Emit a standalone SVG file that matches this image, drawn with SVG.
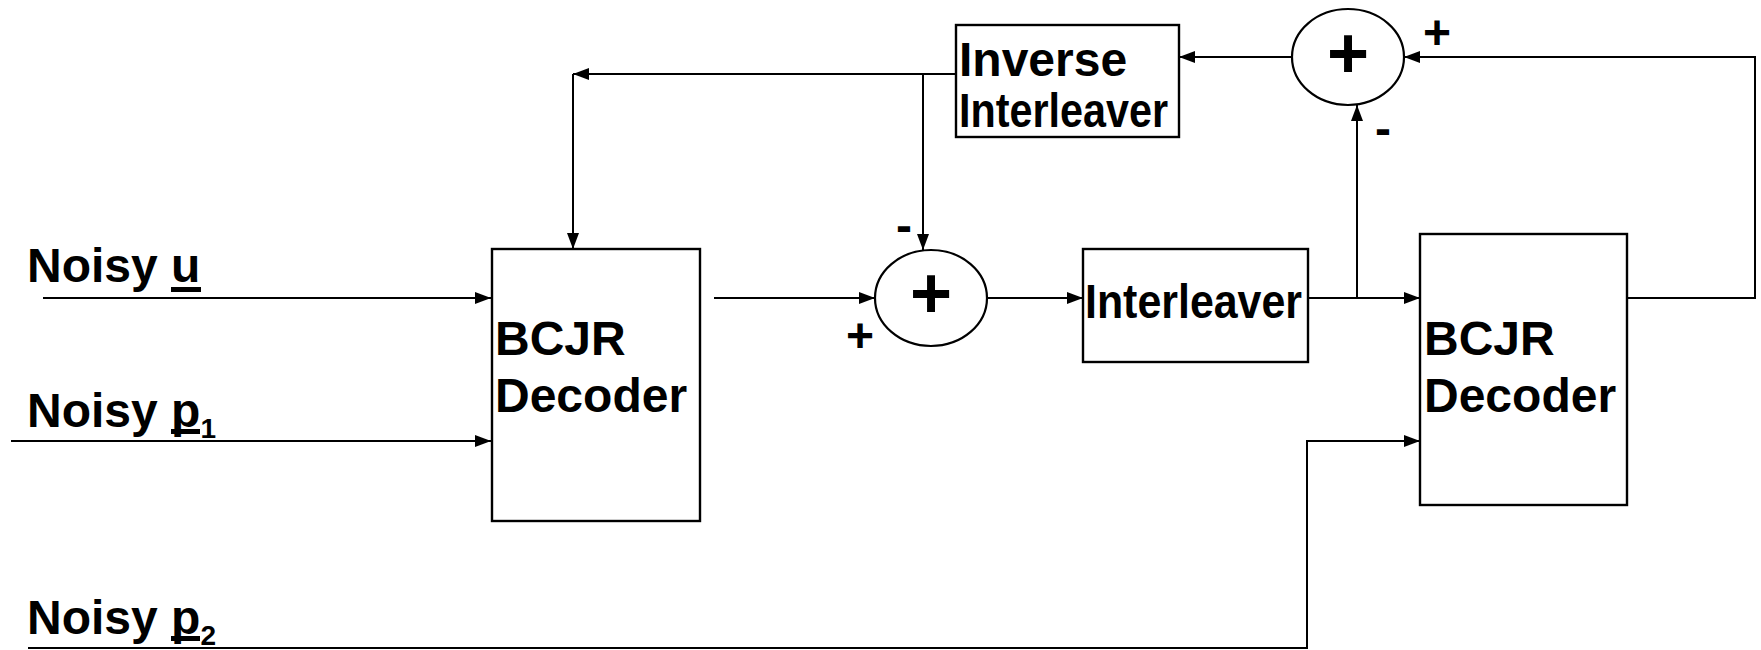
<svg xmlns="http://www.w3.org/2000/svg" width="1761" height="650" viewBox="0 0 1761 650">
<style>
.box{fill:#fff;stroke:#000;stroke-width:2.4}
.sum{fill:#fff;stroke:#000;stroke-width:2.2}
.ln{fill:none;stroke:#000;stroke-width:2}
.t{font-family:"Liberation Sans",Arial,sans-serif;font-weight:bold;font-size:48px;fill:#000}
.s{font-family:"Liberation Sans",Arial,sans-serif;font-weight:bold;font-size:48px;fill:#000}
.p{font-family:"Liberation Sans",Arial,sans-serif;font-weight:bold;font-size:72px;fill:#000;text-anchor:middle}
.ul{fill:#000}
</style>
<defs>
<marker id="ah" viewBox="0 0 16 12" refX="16" refY="6" markerWidth="16" markerHeight="12" markerUnits="userSpaceOnUse" orient="auto">
<path d="M0,0 L16,6 L0,12 Z" fill="#000"/>
</marker>
</defs>
<g id="connectors">
<path class="ln" d="M43,298 H491" marker-end="url(#ah)"/>
<path class="ln" d="M11,441 H491" marker-end="url(#ah)"/>
<path class="ln" d="M28,648 H1307 V441 H1420" marker-end="url(#ah)"/>
<path class="ln" d="M714,298 H875" marker-end="url(#ah)"/>
<path class="ln" d="M987,298 H1083" marker-end="url(#ah)"/>
<path class="ln" d="M1307,298 H1420" marker-end="url(#ah)"/>
<path class="ln" d="M1357,298 V105" marker-end="url(#ah)"/>
<path class="ln" d="M1627,298 H1755 V57 H1404" marker-end="url(#ah)"/>
<path class="ln" d="M1292,57 H1179" marker-end="url(#ah)"/>
<path class="ln" d="M956,74 H573" marker-end="url(#ah)"/>
<path class="ln" d="M573,74 V249" marker-end="url(#ah)"/>
<path class="ln" d="M923,74 V250" marker-end="url(#ah)"/>
</g>
<g id="input-labels">
<text class="t" x="27" y="282">Noisy u</text>
<rect class="ul" x="171" y="287" width="30" height="5"/>
<text class="t" x="27" y="427">Noisy p<tspan font-size="28" dy="11">1</tspan></text>
<rect class="ul" x="171" y="429" width="29" height="5"/>
<text class="t" x="27" y="634">Noisy p<tspan font-size="28" dy="11">2</tspan></text>
<rect class="ul" x="171" y="636" width="29" height="5"/>
</g>
<g id="bcjr1">
<rect class="box" x="492" y="249" width="208" height="272"/>
<text class="t" x="495" y="355">BCJR</text>
<text class="t" x="495" y="412">Decoder</text>
</g>
<g id="sum1">
<ellipse class="sum" cx="931" cy="298" rx="56" ry="48"/>
<text class="p" x="931" y="318">+</text>
<text class="s" x="896" y="242">-</text>
<text class="s" x="846" y="352">+</text>
</g>
<g id="interleaver">
<rect class="box" x="1083" y="249" width="225" height="113"/>
<text class="t" x="1085" y="318" font-size="45" textLength="217" lengthAdjust="spacingAndGlyphs">Interleaver</text>
</g>
<g id="bcjr2">
<rect class="box" x="1420" y="234" width="207" height="271"/>
<text class="t" x="1424" y="355">BCJR</text>
<text class="t" x="1424" y="412">Decoder</text>
</g>
<g id="sum2">
<ellipse class="sum" cx="1348" cy="57" rx="56" ry="48"/>
<text class="p" x="1348" y="78">+</text>
<text class="s" x="1423" y="49">+</text>
<text class="s" x="1375" y="145">-</text>
</g>
<g id="inverse-interleaver">
<rect class="box" x="956" y="25" width="223" height="112"/>
<text class="t" x="959" y="76" font-size="43">Inverse</text>
<text class="t" x="959" y="127" font-size="43" textLength="209" lengthAdjust="spacingAndGlyphs">Interleaver</text>
</g>
</svg>
